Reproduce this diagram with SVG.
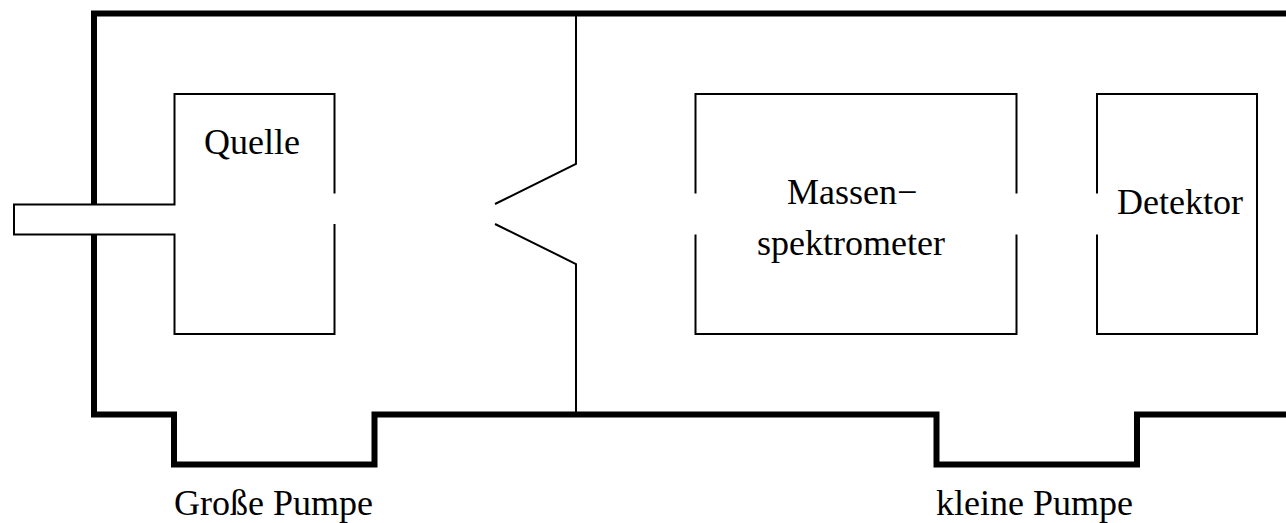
<svg xmlns="http://www.w3.org/2000/svg" width="1286" height="523" viewBox="0 0 1286 523">
<style>
.wall{fill:none;stroke:#000;stroke-width:6;stroke-linejoin:miter;stroke-linecap:butt}
.thin{fill:none;stroke:#000;stroke-width:2;stroke-linejoin:miter;stroke-linecap:butt}
text{font-family:"Liberation Serif","Times New Roman",serif;font-size:36px;fill:#000}
</style>
<rect width="1286" height="523" fill="#fff"/>
<g id="vessel">
<path class="wall" d="M1286 13.5H94V414.5H174V464.5H374.500V414.500H936.500V464.500H1137V414.500H1286"/>
<path class="thin" d="M576 13.5V164L495 204M495 224L576 264V414.5"/>
</g>
<g id="quelle">
<rect x="14" y="204.500" width="160" height="30" fill="#fff" stroke="none"/>
<path class="thin" d="M334.500 193.500V94H174.500V204.500H14V234.500H174.500V334H334.500V224"/>
<text x="204" y="154">Quelle</text>
</g>
<g id="massenspektrometer">
<path class="thin" d="M695.500 193.500V94H1016.500V193.500M695.500 234.500V334H1016.500V234.500"/>
<text x="787" y="204">Massen−</text>
<text x="757" y="255">spektrometer</text>
</g>
<g id="detektor">
<path class="thin" d="M1097 193.500V94H1257V334H1097V234.500"/>
<text x="1117" y="214">Detektor</text>
</g>
<g id="grosse-pumpe"><text x="174" y="515">Große Pumpe</text></g>
<g id="kleine-pumpe"><text x="936" y="515">kleine Pumpe</text></g>
</svg>
